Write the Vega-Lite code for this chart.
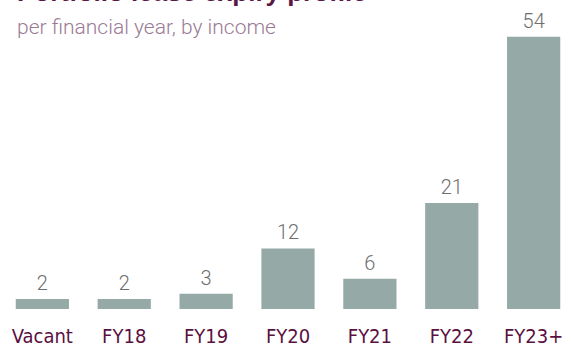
{
  "$schema": "https://vega.github.io/schema/vega-lite/v6.json",
  "width": 574,
  "height": 300,
  "autosize": "none",
  "padding": {"left": 1, "top": 9, "right": 0, "bottom": 38},
  "background": "white",
  "title": {
    "text": "Portfolio lease expiry profile",
    "subtitle": "per financial year, by income",
    "anchor": "start",
    "frame": "group",
    "orient": "top",
    "offset": -29,
    "dx": 16,
    "font": "Liberation Sans",
    "fontSize": 26,
    "fontWeight": "bold",
    "color": "#5a1846",
    "subtitleFont": "Roboto",
    "subtitleFontSize": 21,
    "subtitleFontWeight": 300,
    "subtitleColor": "#9c7a94",
    "subtitlePadding": 11
  },
  "data": {
    "values": [
      {"period": "Vacant", "share": 2},
      {"period": "FY18", "share": 2},
      {"period": "FY19", "share": 3},
      {"period": "FY20", "share": 12},
      {"period": "FY21", "share": 6},
      {"period": "FY22", "share": 21},
      {"period": "FY23+", "share": 54}
    ]
  },
  "encoding": {
    "x": {
      "field": "period",
      "type": "nominal",
      "sort": null,
      "scale": {"paddingInner": 0.35, "paddingOuter": 0.18},
      "axis": {
        "title": null,
        "domain": false,
        "ticks": false,
        "labelAngle": 0,
        "labelFont": "DejaVu Sans Condensed",
        "labelFontSize": 20,
        "labelColor": "#5a1040",
        "labelPadding": 17,
        "labelBaseline": "top"
      }
    },
    "y": {
      "field": "share",
      "type": "quantitative",
      "scale": {"domain": [0, 59.5]},
      "axis": null
    }
  },
  "layer": [
    {"mark": {"type": "bar", "color": "#95aaa6"}},
    {
      "mark": {
        "type": "text",
        "baseline": "alphabetic",
        "dy": -9,
        "font": "Roboto",
        "fontWeight": 300,
        "fontSize": 20,
        "color": "#6e6e6e"
      },
      "encoding": {"text": {"field": "share", "type": "quantitative"}}
    }
  ],
  "config": {"view": {"stroke": null}}
}
